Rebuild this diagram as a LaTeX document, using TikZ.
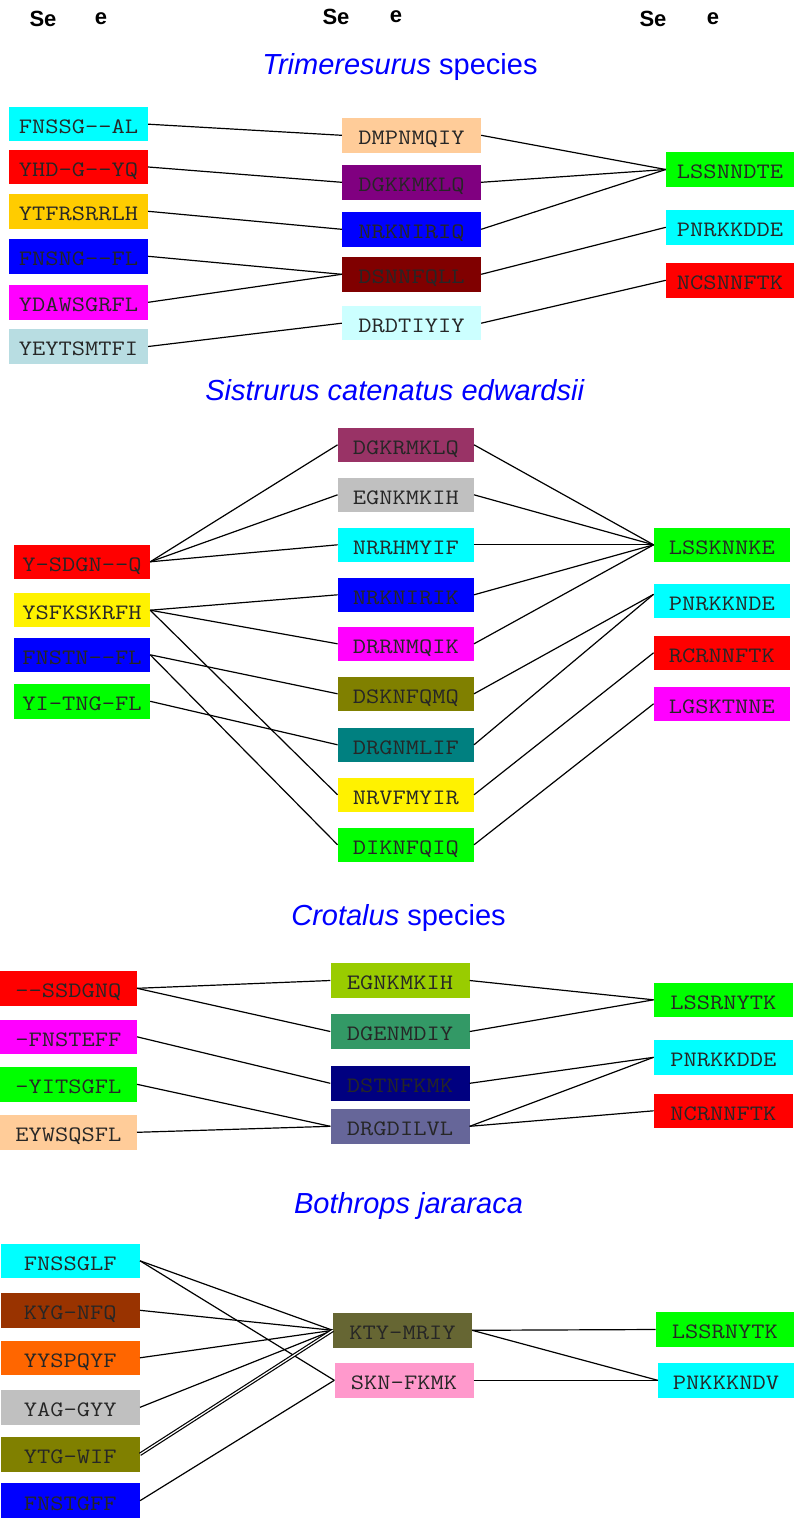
\documentclass[tikz,border=0pt]{standalone}
\usepackage{fontspec}
\setmainfont{Liberation Sans}
\newfontfamily\seqfont[FakeStretch=1.17]{Latin Modern Mono}
\usepackage{tikz}
\usetikzlibrary{positioning}

% box colours
\definecolor{aqua}{HTML}{00FFFF}
\definecolor{fuchsia}{HTML}{FF00FF}
\definecolor{limeg}{HTML}{00FF00}
\definecolor{peach}{HTML}{FFCC99}
\definecolor{gold}{HTML}{FFCC00}
\definecolor{pplum}{HTML}{800080}
\definecolor{maroonx}{HTML}{800000}
\definecolor{paleCyan}{HTML}{CCFFFF}
\definecolor{powder}{HTML}{B8DDE2}
\definecolor{rose}{HTML}{993366}
\definecolor{silverx}{HTML}{C0C0C0}
\definecolor{olivex}{HTML}{808000}
\definecolor{tealx}{HTML}{008080}
\definecolor{lime}{HTML}{99CC00}
\definecolor{seagreen}{HTML}{339966}
\definecolor{navyx}{HTML}{000080}
\definecolor{slate}{HTML}{666699}
\definecolor{rust}{HTML}{993300}
\definecolor{orangex}{HTML}{FF6600}
\definecolor{khaki}{HTML}{666633}
\definecolor{pinkx}{HTML}{FF99CC}

\begin{document}
\begin{tikzpicture}[
  x=1pt, y=-1pt,
  % Node styles
  seq/.style={rectangle, inner sep=0pt, minimum height=34.5, minimum width=139,
    text=black!85, text height=18.6, text depth=0,
    font=\seqfont\fontsize{22}{22}\selectfont},
  head/.style={font=\bfseries\fontsize{22}{22}\selectfont},
  species/.style={text=blue, font=\fontsize{29}{29}\selectfont},
  % Edge styles
  link/.style={draw=black, line width=1.2pt}
]

\useasboundingbox (0,0) rectangle (794,1518);

% ------------------------------------------------------------
% Column headers
% ------------------------------------------------------------
\node[head] (h1a) at (43,19)  {Se};
\node[head] (h1b) at (101,19) {e};
\node[head] (h2a) at (336,17) {Se};
\node[head] (h2b) at (396,17) {e};
\node[head] (h3a) at (653,19) {Se};
\node[head] (h3b) at (713,19) {e};

% =========================
% Trimeresurus species
% =========================
\node[species] (T_title) at (400,67) {\textit{Trimeresurus} species};

\node[seq, fill=aqua]     (T_l1) at (78.5,124.2) {FNSSG--AL};
\node[seq, fill=red]      (T_l2) at (78.5,167.0) {YHD-G--YQ};
\node[seq, fill=gold]     (T_l3) at (78.5,211.3) {YTFRSRRLH};
\node[seq, fill=blue]     (T_l4) at (78.5,256.3) {FNSNG--FL};
\node[seq, fill=fuchsia]  (T_l5) at (78.5,302.3) {YDAWSGRFL};
\node[seq, fill=powder]   (T_l6) at (78.5,346.5) {YEYTSMTFI};

\node[seq, fill=peach]    (T_m1) at (411.5,135.3) {DMPNMQIY};
\node[seq, fill=pplum]    (T_m2) at (411.5,182.3) {DGKKMKLQ};
\node[seq, fill=blue]     (T_m3) at (411.5,229.3) {NRKNIRIQ};
\node[seq, fill=maroonx]  (T_m4) at (411.5,274.3) {DSNNFQLL};
\node[seq, fill=paleCyan] (T_m5) at (411.5,323.2) {DRDTIYIY};

\node[seq, fill=limeg, minimum width=128] (T_r1) at (730,169.5) {LSSNNDTE};
\node[seq, fill=aqua,  minimum width=128] (T_r2) at (730,227.3) {PNRKKDDE};
\node[seq, fill=red,   minimum width=128] (T_r3) at (730,280.3) {NCSNNFTK};

\draw[link] (T_l1.east) -- (T_m1.west);
\draw[link] (T_l2.east) -- (T_m2.west);
\draw[link] (T_l3.east) -- (T_m3.west);
\draw[link] (T_l4.east) -- (T_m4.west);
\draw[link] (T_l5.east) -- (T_m4.west);
\draw[link] (T_l6.east) -- (T_m5.west);

\draw[link] (T_m1.east) -- (T_r1.west);
\draw[link] (T_m2.east) -- (T_r1.west);
\draw[link] (T_m3.east) -- (T_r1.west);
\draw[link] (T_m4.east) -- (T_r2.west);
\draw[link] (T_m5.east) -- (T_r3.west);

% =========================
% Sistrurus catenatus edwardsii
% =========================
\node[species] (S_title) at (395,390) {\textit{Sistrurus catenatus edwardsii}};

\node[seq, fill=red,    minimum width=136] (S_l1) at (82,561.8) {Y-SDGN--Q};
\node[seq, fill=yellow, minimum width=136] (S_l2) at (82,610.2) {YSFKSKRFH};
\node[seq, fill=blue,   minimum width=136] (S_l3) at (82,654.8) {FNSTN--FL};
\node[seq, fill=limeg,  minimum width=136] (S_l4) at (82,701.3) {YI-TNG-FL};

\node[seq, fill=rose,    minimum width=136] (S_m1) at (405.8,444.8) {DGKRMKLQ};
\node[seq, fill=silverx, minimum width=136] (S_m2) at (405.8,494.8) {EGNKMKIH};
\node[seq, fill=aqua,    minimum width=136] (S_m3) at (405.8,544.8) {NRRHMYIF};
\node[seq, fill=blue,    minimum width=136] (S_m4) at (405.8,594.8) {NRKNIRIK};
\node[seq, fill=fuchsia, minimum width=136] (S_m5) at (405.8,643.8) {DRRNMQIK};
\node[seq, fill=olivex,  minimum width=136] (S_m6) at (405.8,693.8) {DSKNFQMQ};
\node[seq, fill=tealx,   minimum width=136] (S_m7) at (405.8,744.8) {DRGNMLIF};
\node[seq, fill=yellow,  minimum width=136] (S_m8) at (405.8,794.8) {NRVFMYIR};
\node[seq, fill=limeg,   minimum width=136] (S_m9) at (405.8,844.8) {DIKNFQIQ};

\node[seq, fill=limeg,   minimum width=136] (S_r1) at (721.8,544.8) {LSSKNNKE};
\node[seq, fill=aqua,    minimum width=136] (S_r2) at (721.8,600.8) {PNRKKNDE};
\node[seq, fill=red,     minimum width=136] (S_r3) at (721.8,652.8) {RCRNNFTK};
\node[seq, fill=fuchsia, minimum width=136] (S_r4) at (721.8,703.8) {LGSKTNNE};

\draw[link] (S_l1.east) -- (S_m1.west);
\draw[link] (S_l1.east) -- (S_m2.west);
\draw[link] (S_l1.east) -- (S_m3.west);
\draw[link] (S_l2.east) -- (S_m4.west);
\draw[link] (S_l2.east) -- (S_m5.west);
\draw[link] (S_l2.east) -- (S_m8.west);
\draw[link] (S_l3.east) -- (S_m6.west);
\draw[link] (S_l3.east) -- (S_m9.west);
\draw[link] (S_l4.east) -- (S_m7.west);

\draw[link] (S_m1.east) -- (S_r1.west);
\draw[link] (S_m2.east) -- (S_r1.west);
\draw[link] (S_m3.east) -- (S_r1.west);
\draw[link] (S_m4.east) -- (S_r1.west);
\draw[link] (S_m5.east) -- (S_r1.west);
\draw[link] (S_m6.east) -- ([yshift=6.5pt]S_r2.west);
\draw[link] (S_m7.east) -- ([yshift=6.5pt]S_r2.west);
\draw[link] (S_m8.east) -- (S_r3.west);
\draw[link] (S_m9.east) -- (S_r4.west);

% =========================
% Crotalus species
% =========================
\node[species] (C_title) at (398.5,918) {\textit{Crotalus} species};

\node[seq, fill=red,     minimum width=137] (C_l1) at (68.3,988.3)  {--SSDGNQ};
\node[seq, fill=fuchsia, minimum width=137] (C_l2) at (68.3,1036.8) {-FNSTEFF};
\node[seq, fill=limeg,   minimum width=137] (C_l3) at (68.3,1084.3) {-YITSGFL};
\node[seq, fill=peach,   minimum width=137] (C_l4) at (68.3,1132.3) {EYWSQSFL};

\node[seq, fill=lime]     (C_m1) at (400,980.5)  {EGNKMKIH};
\node[seq, fill=seagreen] (C_m2) at (400,1031.5) {DGENMDIY};
\node[seq, fill=navyx]    (C_m3) at (400,1083.3) {DSTNFKMK};
\node[seq, fill=slate]    (C_m4) at (400,1126.3) {DRGDILVL};

\node[seq, fill=limeg] (C_r1) at (723.3,999.8)  {LSSRNYTK};
\node[seq, fill=aqua]  (C_r2) at (723.3,1057.3) {PNRKKDDE};
\node[seq, fill=red]   (C_r3) at (723.3,1110.8) {NCRNNFTK};

\draw[link] (C_l1.east) -- (C_m1.west);
\draw[link] (C_l1.east) -- (C_m2.west);
\draw[link] (C_l2.east) -- (C_m3.west);
\draw[link] (C_l3.east) -- (C_m4.west);
\draw[link] (C_l4.east) -- (C_m4.west);

\draw[link] (C_m1.east) -- (C_r1.west);
\draw[link] (C_m2.east) -- (C_r1.west);
\draw[link] (C_m3.east) -- (C_r2.west);
\draw[link] (C_m4.east) -- (C_r2.west);
\draw[link] (C_m4.east) -- (C_r3.west);

% =========================
% Bothrops jararaca
% =========================
\node[species] (B_title) at (408.5,1206) {\textit{Bothrops jararaca}};

\node[seq, fill=aqua]    (B_l1) at (70.3,1260.8) {FNSSGLF};
\node[seq, fill=rust]    (B_l2) at (70.3,1310.3) {KYG-NFQ};
\node[seq, fill=orangex] (B_l3) at (70.3,1357.8) {YYSPQYF};
\node[seq, fill=silverx] (B_l4) at (70.3,1407.3) {YAG-GYY};
\node[seq, fill=olivex]  (B_l5) at (70.3,1454.3) {YTG-WIF};
\node[seq, fill=blue]    (B_l6) at (70.3,1500.7) {FNSTGFF};

\node[seq, fill=khaki] (B_m1) at (402.5,1330.3) {KTY-MRIY};
\node[seq, fill=pinkx] (B_m2) at (404,1380.3)   {SKN-FKMK};

\node[seq, fill=limeg, minimum width=138] (B_r1) at (724.8,1329.5) {LSSRNYTK};
\node[seq, fill=aqua,  minimum width=136] (B_r2) at (726,1380.3)   {PNKKKNDV};

\draw[link] (B_l1.east) -- (B_m1.west);
\draw[link] (B_l1.east) -- (B_m2.west);
\draw[link] (B_l2.east) -- (B_m1.west);
\draw[link] (B_l3.east) -- (B_m1.west);
\draw[link] (B_l4.east) -- (B_m1.west);
\draw[link, double, double distance=1.2pt] (B_l5.east) -- (B_m1.west);
\draw[link] (B_l6.east) -- (B_m2.west);

\draw[link] (B_m1.east) -- (B_r1.west);
\draw[link] (B_m1.east) -- (B_r2.west);
\draw[link] (B_m2.east) -- (B_r2.west);

\end{tikzpicture}
\end{document}
